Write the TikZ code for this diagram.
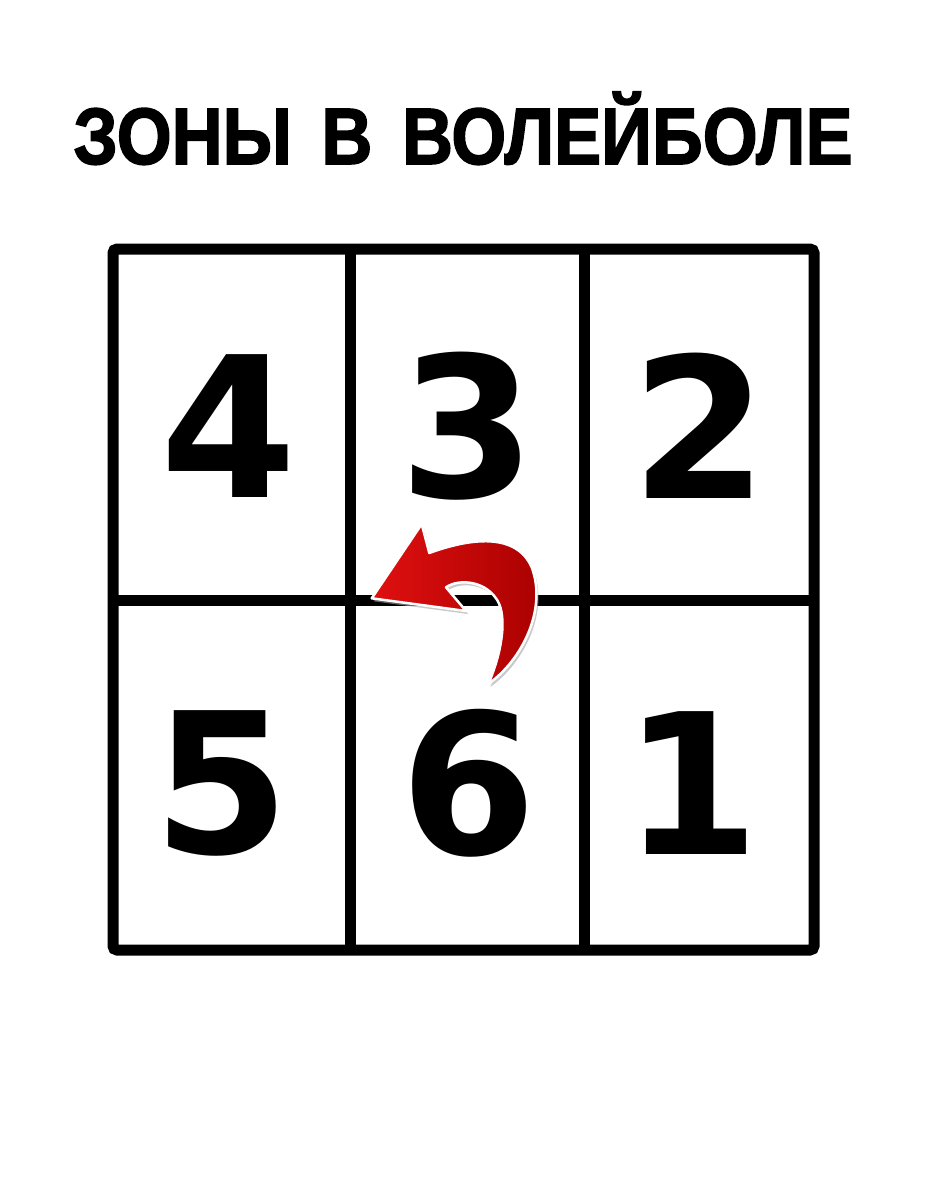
\documentclass[tikz,border=0pt]{standalone}
\usepackage{fontspec}
\setmainfont{Liberation Sans}
\newfontfamily\digitfont{DejaVu Sans}
\newfontfamily\titlefont[FakeBold=2]{Liberation Sans}
\usetikzlibrary{calc}
\definecolor{arrowdark}{HTML}{A80000}
\definecolor{arrowlight}{HTML}{E01010}
\tikzset{
  gridline/.style={line width=11pt, black},
  digit/.style={inner sep=0pt, font=\digitfont\bfseries\fontsize{196}{196}\selectfont},
  titletext/.style={inner sep=0pt, anchor=base, font=\titlefont\bfseries\fontsize{80}{80}\selectfont},
}
\begin{document}
\begin{tikzpicture}[x=1pt,y=-1pt]
\useasboundingbox[fill=white] (0,0) rectangle (928,1200);

% title
\node[titletext] (title) at (463,164) {\resizebox{779pt}{\height}{ЗОНЫ\hspace{0.42em}В\hspace{0.42em}ВОЛЕЙБОЛЕ}};

% grid
\coordinate (tl) at (113,249);
\coordinate (br) at (814,950);
\draw[gridline, rounded corners=4pt] (tl) rectangle (br);
\coordinate (v1t) at (350,249); \coordinate (v1b) at (350,950);
\coordinate (v2t) at (584,249); \coordinate (v2b) at (584,950);
\coordinate (hl) at (113,600); \coordinate (hr) at (814,600);
\draw[gridline] (v1t) -- (v1b);
\draw[gridline] (v2t) -- (v2b);
\draw[gridline] (hl) -- (hr);

% digits
\node[digit] (d4) at (229,426) {4};
\node[digit] (d3) at (468,426) {3};
\node[digit] (d2) at (700,426) {2};
\node[digit] (d5) at (222,783) {5};
\node[digit] (d6) at (469,783) {6};
\node[digit] (d1) at (692,783) {1};

% arrow shadow
\fill[black!35, opacity=0.6, shift={(2,3)}]
  (371.7,598.3) -- (421.7,524) -- (429.3,553)
  .. controls (470,538) and (517,532) .. (532,568)
  .. controls (547,610) and (522,660) .. (488.3,684)
  .. controls (503,650) and (508,612) .. (495,597)
  .. controls (484,582) and (460,578) .. (446,587.3)
  -- (466,611) -- cycle;
% arrow
\draw[white, line width=2.5pt, line join=round, left color=arrowlight, right color=arrowdark]
  (371.7,598.3) -- (421.7,524) -- (429.3,553)
  .. controls (470,538) and (517,532) .. (532,568)
  .. controls (547,610) and (522,660) .. (488.3,684)
  .. controls (503,650) and (508,612) .. (495,597)
  .. controls (484,582) and (460,578) .. (446,587.3)
  -- (466,611) -- cycle;
\end{tikzpicture}
\end{document}
